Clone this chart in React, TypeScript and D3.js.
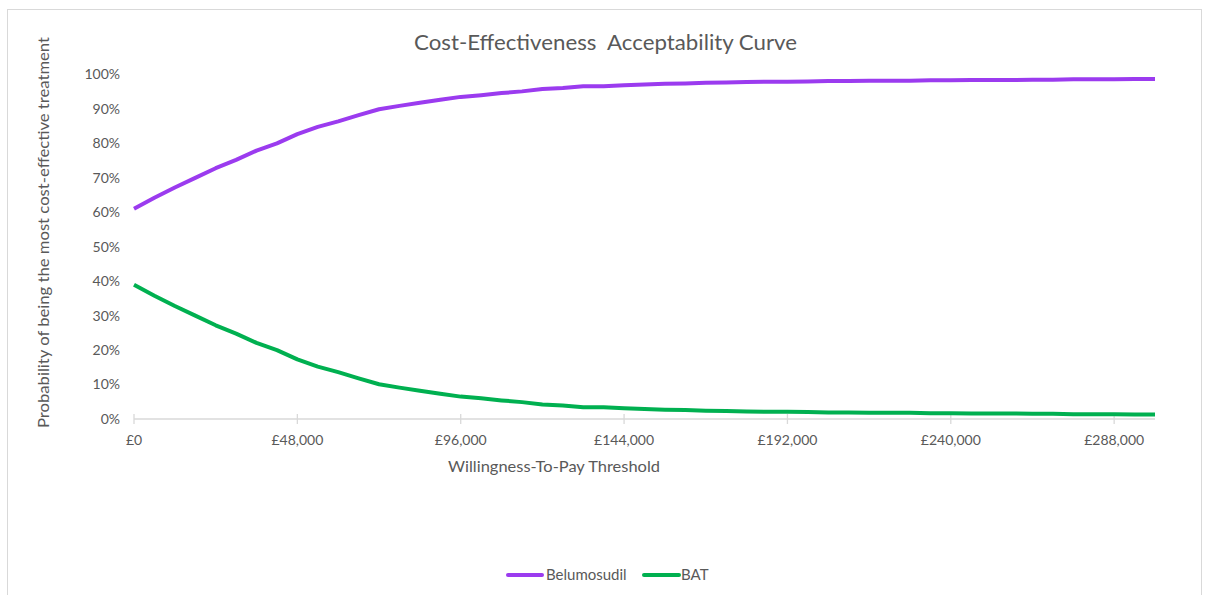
import React, { useEffect, useRef } from "react";
import * as d3 from "d3";

// willingness-to-pay thresholds (£), one point every £6,000
const wtp = [
  0, 6000, 12000, 18000, 24000, 30000, 36000, 42000, 48000, 54000,
  60000, 66000, 72000, 78000, 84000, 90000, 96000, 102000, 108000, 114000,
  120000, 126000, 132000, 138000, 144000, 150000, 156000, 162000, 168000, 174000,
  180000, 186000, 192000, 198000, 204000, 210000, 216000, 222000, 228000, 234000,
  240000, 246000, 252000, 258000, 264000, 270000, 276000, 282000, 288000, 294000,
  300000,
];

const belumosudil = [
  0.610, 0.642, 0.672, 0.700, 0.728, 0.752, 0.779, 0.800, 0.827, 0.848,
  0.864, 0.882, 0.899, 0.909, 0.918, 0.927, 0.935, 0.940, 0.946, 0.951,
  0.958, 0.961, 0.966, 0.966, 0.969, 0.971, 0.973, 0.974, 0.976, 0.977,
  0.978, 0.979, 0.979, 0.980, 0.981, 0.981, 0.982, 0.982, 0.982, 0.983,
  0.983, 0.984, 0.984, 0.984, 0.985, 0.985, 0.986, 0.986, 0.986, 0.987,
  0.987,
];

const bat = [
  0.390, 0.358, 0.328, 0.300, 0.272, 0.248, 0.221, 0.200, 0.173, 0.152,
  0.136, 0.118, 0.101, 0.091, 0.082, 0.073, 0.065, 0.060, 0.054, 0.049,
  0.042, 0.039, 0.034, 0.034, 0.031, 0.029, 0.027, 0.026, 0.024, 0.023,
  0.022, 0.021, 0.021, 0.020, 0.019, 0.019, 0.018, 0.018, 0.018, 0.017,
  0.017, 0.016, 0.016, 0.016, 0.015, 0.015, 0.014, 0.014, 0.014, 0.013,
  0.013,
];

const xTicks = [0, 48000, 96000, 144000, 192000, 240000, 288000];
const yTicks = [0, 0.1, 0.2, 0.3, 0.4, 0.5, 0.6, 0.7, 0.8, 0.9, 1];

const series = [
  { name: "Belumosudil", values: belumosudil, color: "#9B3BEF" },
  { name: "BAT", values: bat, color: "#00B050" },
];

const FONT = "Lato, 'Open Sans', sans-serif";
const TEXT = "#595959";

const App: React.FC = () => {
  const svgRef = useRef<SVGSVGElement | null>(null);

  useEffect(() => {
    if (!svgRef.current) return;
    const svg = d3.select(svgRef.current);
    svg.selectAll("*").remove();

    const width = 1205;
    const height = 595;
    svg.attr("width", width).attr("height", height);

    // chart area border
    svg.append("rect")
      .attr("x", 7.5).attr("y", 9.5)
      .attr("width", 1194).attr("height", 600)
      .attr("fill", "#fff")
      .attr("stroke", "#d9d9d9");

    const x = d3.scaleLinear().domain([0, 300000]).range([134, 1155]);
    const y = d3.scaleLinear().domain([0, 1]).range([419, 74.5]);

    // x axis line + crossing ticks
    const ax = svg.append("g");
    ax.append("line")
      .attr("x1", x(0)).attr("x2", x(300000))
      .attr("y1", y(0)).attr("y2", y(0))
      .attr("stroke", "#d9d9d9").attr("stroke-width", 1.3);
    ax.selectAll("line.tick")
      .data(xTicks)
      .enter()
      .append("line")
      .attr("class", "tick")
      .attr("x1", d => x(d)).attr("x2", d => x(d))
      .attr("y1", y(0) - 5).attr("y2", y(0) + 5)
      .attr("stroke", "#d9d9d9").attr("stroke-width", 1.3);

    const fmt = d3.format(",");
    ax.selectAll("text.xl")
      .data(xTicks)
      .enter()
      .append("text")
      .attr("class", "xl")
      .attr("x", d => x(d))
      .attr("y", 445)
      .attr("text-anchor", "middle")
      .attr("font-family", FONT)
      .attr("font-size", 14)
      .attr("fill", TEXT)
      .text(d => "£" + fmt(d));

    svg.append("g").selectAll("text")
      .data(yTicks)
      .enter()
      .append("text")
      .attr("x", 120)
      .attr("y", d => y(d))
      .attr("dy", "0.35em")
      .attr("text-anchor", "end")
      .attr("font-family", FONT)
      .attr("font-size", 14)
      .attr("fill", TEXT)
      .text(d => Math.round(d * 100) + "%");

    // lines
    const line = d3.line<number>()
      .x((_, i) => x(wtp[i]))
      .y(d => y(d));

    svg.append("g").selectAll("path")
      .data(series)
      .enter()
      .append("path")
      .attr("d", d => line(d.values))
      .attr("fill", "none")
      .attr("stroke", d => d.color)
      .attr("stroke-width", 4)
      .attr("stroke-linejoin", "round");

    // titles (Calibri-like widths)
    svg.append("text")
      .attr("x", 414).attr("y", 49.5)
      .attr("font-family", FONT)
      .attr("font-size", 21)
      .attr("fill", TEXT)
      .attr("textLength", 383)
      .attr("lengthAdjust", "spacingAndGlyphs")
      .style("white-space", "pre")
      .text("Cost-Effectiveness  Acceptability Curve");

    svg.append("text")
      .attr("x", 448).attr("y", 471.5)
      .attr("font-family", FONT)
      .attr("font-size", 16)
      .attr("fill", TEXT)
      .attr("textLength", 212)
      .attr("lengthAdjust", "spacingAndGlyphs")
      .text("Willingness-To-Pay Threshold");

    svg.append("text")
      .attr("transform", "translate(49,428) rotate(-90)")
      .attr("font-family", FONT)
      .attr("font-size", 16)
      .attr("fill", TEXT)
      .attr("textLength", 391)
      .attr("lengthAdjust", "spacingAndGlyphs")
      .text("Probability of being the most cost-effective treatment");

    // legend
    const legend = svg.append("g");
    const items = [
      { s: series[0], x0: 508, x1: 542, tx: 546 },
      { s: series[1], x0: 644, x1: 679, tx: 681 },
    ];
    items.forEach(it => {
      legend.append("line")
        .attr("x1", it.x0).attr("x2", it.x1)
        .attr("y1", 575).attr("y2", 575)
        .attr("stroke", it.s.color)
        .attr("stroke-width", 4)
        .attr("stroke-linecap", "round");
      legend.append("text")
        .attr("x", it.tx).attr("y", 575)
        .attr("dy", "0.35em")
        .attr("font-family", FONT)
        .attr("font-size", 15)
        .attr("fill", TEXT)
        .text(it.s.name);
    });
  }, []);

  return (
    <svg ref={svgRef} style={{ position: "absolute", left: 0, top: 0, display: "block" }} />
  );
};

export default App;
